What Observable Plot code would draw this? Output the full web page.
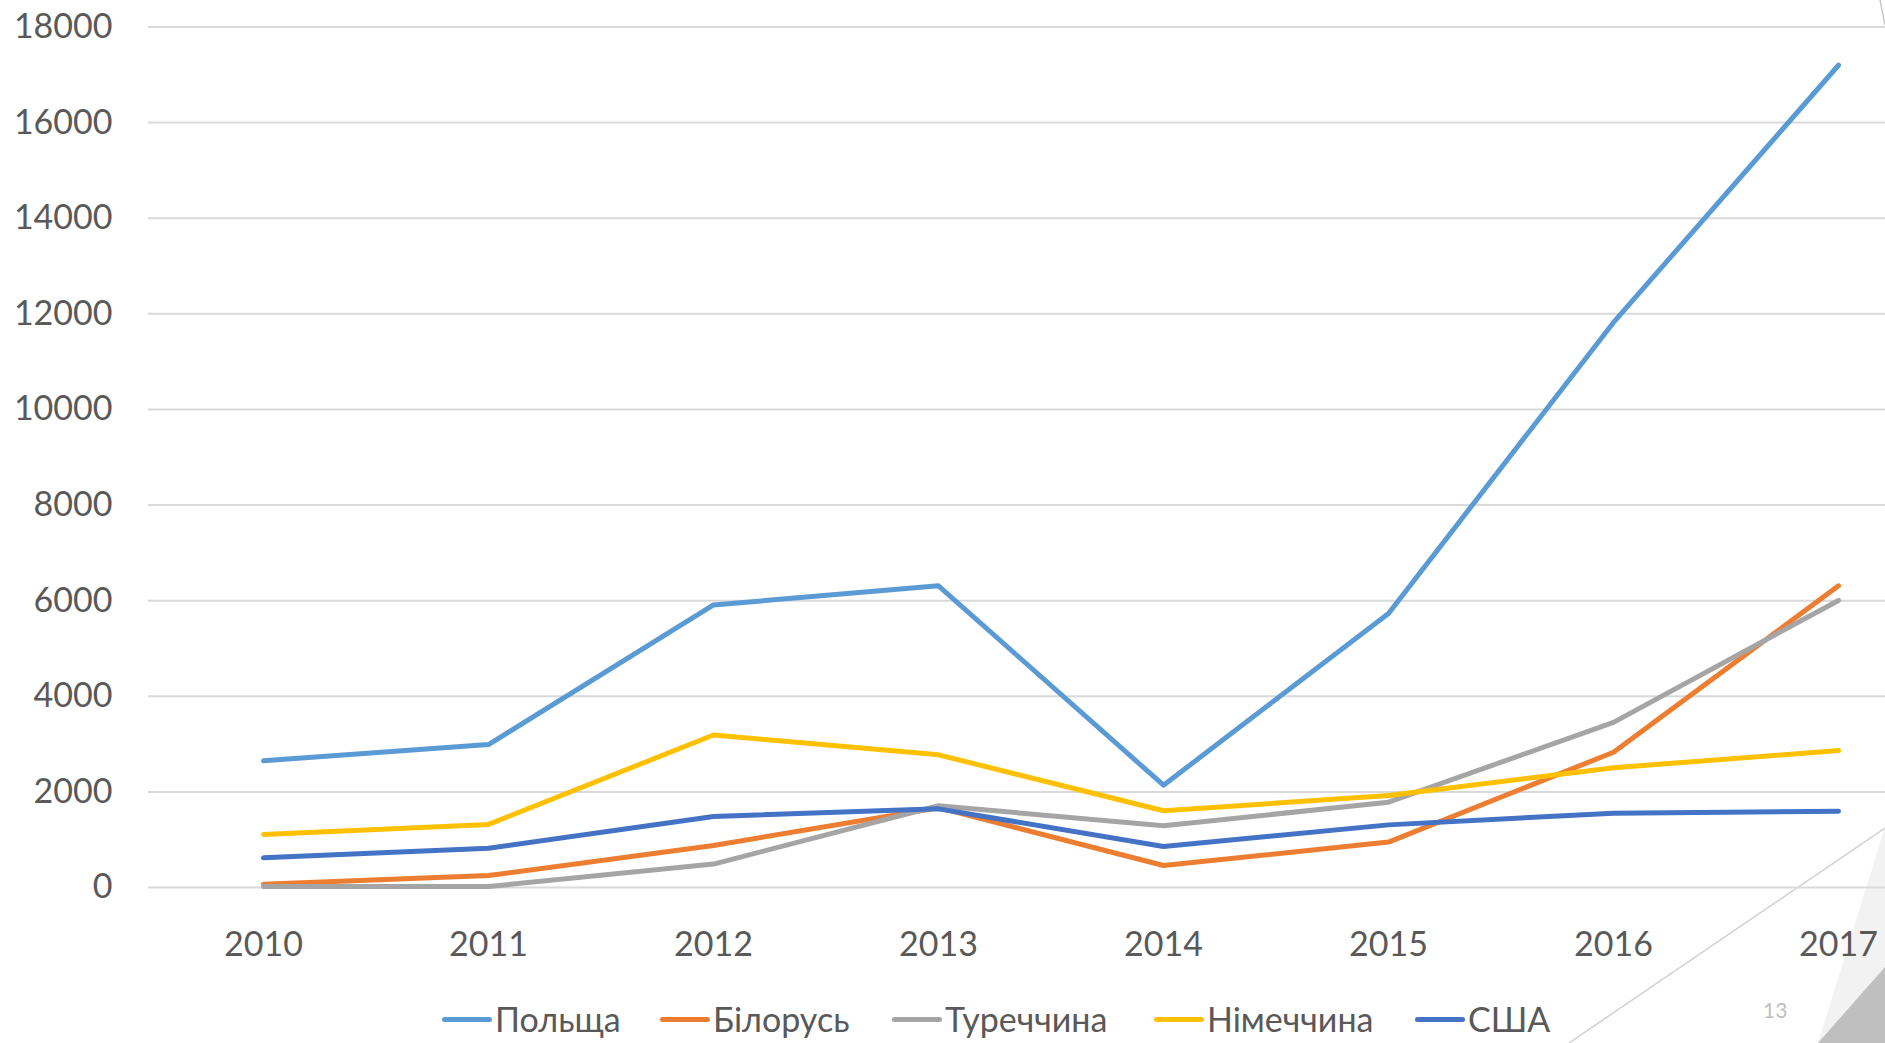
<!DOCTYPE html>
<html>
<head>
<meta charset="utf-8">
<script src="https://cdn.jsdelivr.net/npm/d3@7"></script>
<script src="https://cdn.jsdelivr.net/npm/@observablehq/plot@0.6"></script>
<style>
  html, body { margin: 0; padding: 0; background: #fff; }
  #wrap { position: relative; width: 1885px; height: 1043px; overflow: hidden; font-family: Lato, "Open Sans", sans-serif; }
  #chart { position: relative; z-index: 1; }
  .leg { position: absolute; top: 998px; display: flex; align-items: center; font-size: 34px; color: #595959; white-space: nowrap; line-height: 42px; z-index: 1; }
  .sw { width: 50px; height: 5px; border-radius: 3px; margin-right: 3px; }
  #page { position: absolute; left: 1763px; top: 997px; font-size: 21px; color: #bfbfbf; z-index: 1; }
  #deco { position: absolute; left: 0; top: 0; pointer-events: none; z-index: 0; }
</style>
</head>
<body>
<div id="wrap">
  <div id="chart"></div>
  <div id="legend"></div>
  <div id="page">13</div>
</div>
<script>
const years = [2010, 2011, 2012, 2013, 2014, 2015, 2016, 2017];
const seriesNames = ["Польща", "Білорусь", "Туреччина", "Німеччина", "США"];
const seriesColors = ["#5B9BD5", "#ED7D31", "#A5A5A5", "#FFC000", "#4472C4"];
const poland  = [2650, 2990, 5910, 6310, 2140, 5730, 11820, 17200];
const belarus = [70, 250, 880, 1670, 460, 950, 2830, 6310];
const turkey  = [20, 20, 490, 1710, 1290, 1785, 3455, 6005];
const germany = [1110, 1320, 3190, 2775, 1605, 1925, 2505, 2865];
const usa     = [620, 820, 1485, 1645, 858, 1310, 1555, 1595];
const yTicks = [0, 2000, 4000, 6000, 8000, 10000, 12000, 14000, 16000, 18000];
const legendLeft = [442, 660, 892, 1154, 1415];

const seriesValues = [poland, belarus, turkey, germany, usa];
const data = seriesNames.flatMap((name, i) =>
  years.map((year, j) => ({ name, year, value: seriesValues[i][j] })));

const chart = Plot.plot({
  width: 1885,
  height: 985,
  marginLeft: 148,
  marginRight: 0,
  marginTop: 26.5,
  marginBottom: 98,
  style: { fontFamily: "Lato, 'Open Sans', sans-serif", fontSize: "34px", color: "#595959", background: "transparent", overflow: "visible" },
  x: { type: "point", domain: years, range: [261, 1839], padding: 0, label: null },
  y: { domain: [0, 18000], label: null },
  color: { domain: seriesNames, range: seriesColors },
  marks: [
    Plot.gridY(yTicks, { stroke: "#d9d9d9", strokeOpacity: 1, strokeWidth: 2 }),
    Plot.axisY(yTicks, { tickSize: 0, tickPadding: 36, tickFormat: d => String(d), fill: "#595959", fontSize: 34 }),
    Plot.axisX(years, { tickSize: 0, tickPadding: 44, tickFormat: d => String(d), fill: "#595959", fontSize: 34 }),
    Plot.line(data, { x: "year", y: "value", z: "name", stroke: "name", strokeWidth: 5, strokeLinecap: "round", strokeLinejoin: "round" })
  ]
});
document.getElementById("chart").appendChild(chart);

const legend = document.getElementById("legend");
seriesNames.forEach((name, i) => {
  const item = document.createElement("div");
  item.className = "leg";
  item.style.left = legendLeft[i] + "px";
  const sw = document.createElement("div");
  sw.className = "sw";
  sw.style.background = seriesColors[i];
  const label = document.createElement("span");
  label.textContent = name;
  item.appendChild(sw);
  item.appendChild(label);
  legend.appendChild(item);
});

// slide decoration (bottom-right corner), drawn behind the chart
const ns = "http://www.w3.org/2000/svg";
const deco = document.createElementNS(ns, "svg");
deco.setAttribute("id", "deco");
deco.setAttribute("width", 1885);
deco.setAttribute("height", 1043);
deco.innerHTML =
  '<polygon points="1818,1043 1885,827 1885,1043" fill="#f2f2f2"/>' +
  '<polygon points="1818,1043 1885,967 1885,1043" fill="#bfbfbf"/>' +
  '<line x1="1569" y1="1043" x2="1885" y2="828" stroke="#d0d0d0" stroke-width="1.5"/>' +
  '<line x1="1880" y1="0" x2="1885" y2="25" stroke="#c8c8c8" stroke-width="1.5"/>';
document.getElementById("wrap").insertBefore(deco, document.getElementById("wrap").firstChild);
</script>
</body>
</html>
